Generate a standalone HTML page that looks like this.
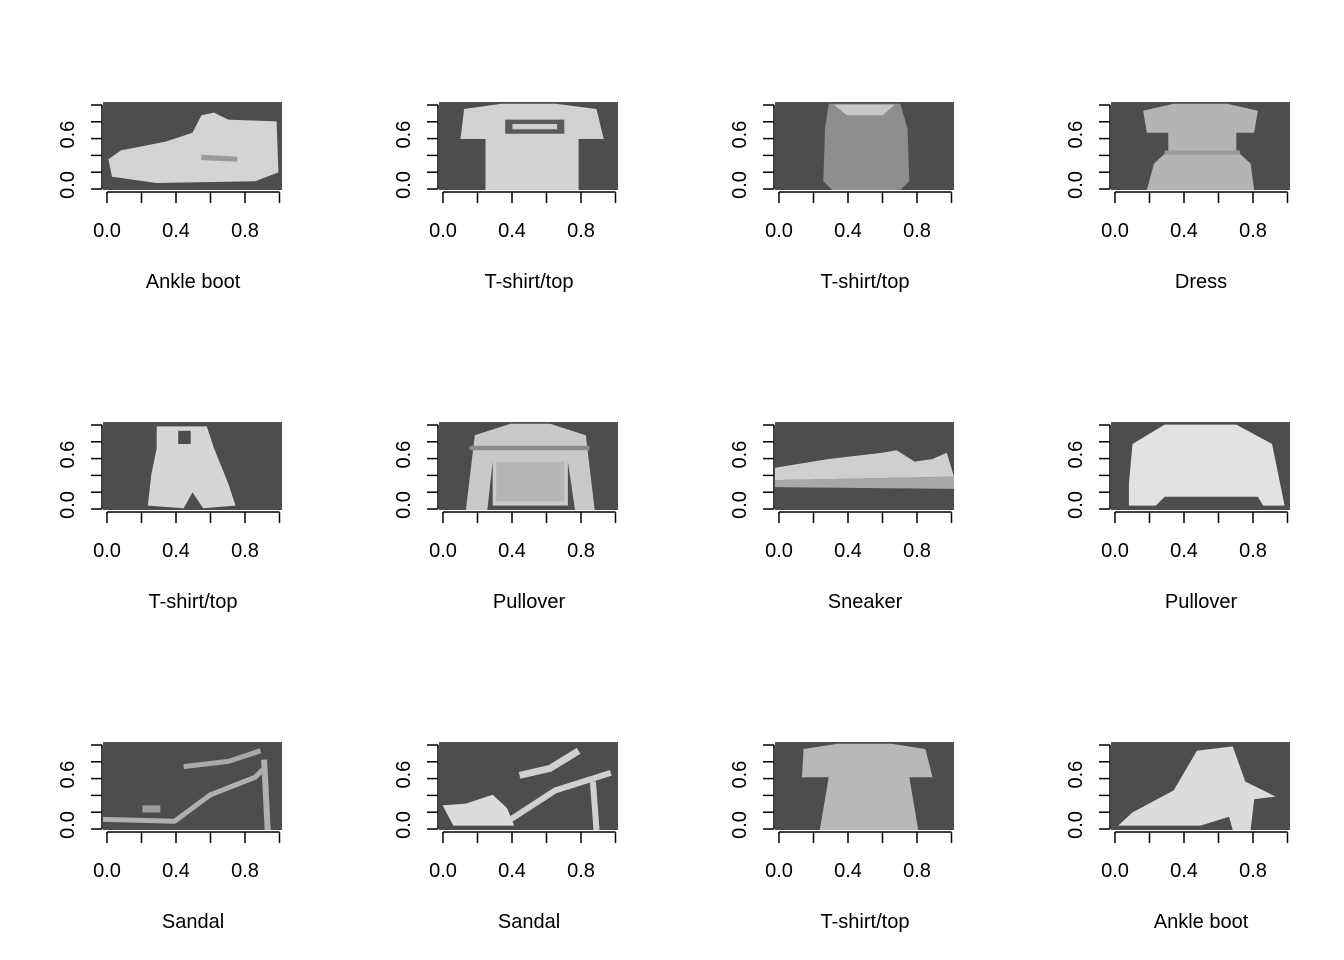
<!DOCTYPE html>
<html><head><meta charset="utf-8">
<style>
html,body{margin:0;padding:0;background:#fff;}
svg{display:block;font-family:"Liberation Sans",Arial,sans-serif;}
</style></head>
<body>
<svg id="chart" width="1344" height="960" viewBox="0 0 1344 960"></svg>
<script>
const titles = ["Ankle boot","T-shirt/top","T-shirt/top","Dress","T-shirt/top","Pullover","Sneaker","Pullover","Sandal","Sandal","T-shirt/top","Ankle boot"];
const xTicks = [0,0.2,0.4,0.6,0.8,1.0];
const xTickLabels = ["0.0","","0.4","","0.8",""];
const yTicks = [0,0.2,0.4,0.6,0.8,1.0];
const yTickLabels = ["0.0","","","0.6","",""];
// shapes in unit image coords (u across, v down)
const shapes = [
 [{f:"#d4d4d4",p:[[0.03,0.65],[0.1,0.55],[0.35,0.45],[0.5,0.35],[0.55,0.15],[0.62,0.12],[0.7,0.2],[0.97,0.22],[0.98,0.8],[0.85,0.9],[0.3,0.92],[0.05,0.85]]},{f:"#9a9a9a",p:[[0.55,0.6],[0.75,0.62],[0.75,0.68],[0.55,0.66]]}],
 [{f:"#d2d2d2",p:[[0.14,0.08],[0.35,0.02],[0.65,0.02],[0.88,0.08],[0.92,0.42],[0.78,0.42],[0.78,1],[0.26,1],[0.26,0.42],[0.12,0.42]]},{f:"#5a5a5a",p:[[0.37,0.2],[0.7,0.2],[0.7,0.36],[0.37,0.36]]},{f:"#cfcfcf",p:[[0.41,0.25],[0.66,0.25],[0.66,0.31],[0.41,0.31]]}],
 [{f:"#8e8e8e",p:[[0.3,0.02],[0.7,0.02],[0.74,0.3],[0.75,0.9],[0.7,1],[0.32,1],[0.27,0.9],[0.28,0.3]]},{f:"#c8c8c8",p:[[0.33,0.03],[0.67,0.03],[0.6,0.15],[0.4,0.15]]}],
 [{f:"#b4b4b4",p:[[0.18,0.1],[0.35,0.02],[0.65,0.02],[0.82,0.1],[0.8,0.35],[0.7,0.35],[0.7,0.55],[0.78,0.7],[0.8,1],[0.2,1],[0.24,0.7],[0.32,0.55],[0.32,0.35],[0.2,0.35]]},{f:"#9a9a9a",p:[[0.3,0.55],[0.72,0.55],[0.72,0.6],[0.3,0.6]]}],
 [{f:"#d6d6d6",p:[[0.3,0.05],[0.58,0.05],[0.62,0.3],[0.7,0.7],[0.74,0.95],[0.56,0.98],[0.5,0.8],[0.45,0.98],[0.25,0.95],[0.27,0.6],[0.3,0.3]]},{f:"#4d4d4d",p:[[0.42,0.1],[0.49,0.1],[0.49,0.25],[0.42,0.25]]}],
 [{f:"#c9c9c9",p:[[0.2,0.15],[0.4,0.02],[0.62,0.02],[0.82,0.15],[0.87,1],[0.76,1],[0.72,0.45],[0.72,0.95],[0.3,0.95],[0.3,0.45],[0.27,1],[0.15,1]]},{f:"#8a8a8a",p:[[0.17,0.27],[0.84,0.27],[0.84,0.32],[0.17,0.32]]},{f:"#b5b5b5",p:[[0.32,0.45],[0.7,0.45],[0.7,0.9],[0.32,0.9]]}],
 [{f:"#cfcfcf",p:[[0,0.52],[0.3,0.42],[0.6,0.35],[0.68,0.32],[0.78,0.45],[0.88,0.42],[0.96,0.35],[1,0.62],[0,0.66]]},{f:"#a8a8a8",p:[[0,0.66],[1,0.62],[1,0.76],[0,0.74]]}],
 [{f:"#e2e2e2",p:[[0.12,0.25],[0.3,0.03],[0.7,0.03],[0.9,0.25],[0.95,0.75],[0.97,0.95],[0.85,0.95],[0.82,0.85],[0.3,0.85],[0.25,0.95],[0.1,0.95],[0.1,0.7]]}],
 [{s:"#b0b0b0",w:5,p:[[0,0.88],[0.4,0.9],[0.6,0.6],[0.85,0.4],[0.9,0.3]]},{s:"#b0b0b0",w:6,p:[[0.9,0.2],[0.92,1]]},{s:"#a8a8a8",w:5,p:[[0.45,0.28],[0.7,0.22],[0.88,0.1]]},{f:"#a0a0a0",p:[[0.22,0.72],[0.32,0.72],[0.32,0.8],[0.22,0.8]]}],
 [{f:"#dcdcdc",p:[[0.02,0.72],[0.15,0.7],[0.3,0.6],[0.38,0.75],[0.42,0.95],[0.08,0.95]]},{s:"#d0d0d0",w:6,p:[[0.4,0.88],[0.65,0.55],[0.96,0.35]]},{s:"#d0d0d0",w:6,p:[[0.86,0.45],[0.88,1]]},{s:"#d0d0d0",w:7,p:[[0.45,0.38],[0.62,0.3],[0.78,0.1]]}],
 [{f:"#b8b8b8",p:[[0.16,0.08],[0.35,0.02],[0.65,0.02],[0.84,0.08],[0.88,0.4],[0.75,0.4],[0.8,1],[0.25,1],[0.3,0.4],[0.15,0.4]]}],
 [{f:"#dcdcdc",p:[[0.04,0.95],[0.12,0.8],[0.35,0.55],[0.48,0.1],[0.68,0.05],[0.75,0.45],[0.92,0.62],[0.8,0.65],[0.78,1],[0.68,1],[0.66,0.85],[0.5,0.95]]}]
];
const svg = document.getElementById('chart');
const NS = "http://www.w3.org/2000/svg";
function mk(tag, attrs, parent){const e=document.createElementNS(NS,tag);for(const k in attrs)e.setAttribute(k,attrs[k]);parent.appendChild(e);return e;}
for (let i=0;i<12;i++){
  const c=i%4, r=Math.floor(i/4);
  const ox=336*c, oy=320*r;
  const g=mk('g',{},svg);
  
  
  const ix=103+ox, iy=102+oy, iw=179, ih=88;
  const xS=v=>107+ox+v*172.5;
  const yS=v=>189+oy-v*84;
  const img=mk('g',{},g);
  
  
  mk('rect',{x:ix,y:iy,width:iw,height:ih,fill:'#4d4d4d'},img);
  const cp='cp'+i;
  const cl=mk('clipPath',{id:cp},img);mk('rect',{x:ix,y:iy,width:iw,height:ih},cl);
  const sg=mk('g',{'clip-path':'url(#'+cp+')'},img);
  shapes[i].forEach(sh=>{
    const pts=sh.p.map(q=>(ix+q[0]*iw).toFixed(1)+','+(iy+q[1]*ih).toFixed(1)).join(' ');
    if(sh.f) mk('polygon',{points:pts,fill:sh.f},sg);
    else mk('polyline',{points:pts,fill:'none',stroke:sh.s,'stroke-width':sh.w,'stroke-linejoin':'round'},sg);
  });
  // x axis
  const xa=mk('g',{stroke:'#000','stroke-width':1.5},g);
  
  
  mk('line',{x1:xS(0),x2:xS(1),y1:192+oy,y2:192+oy},xa);
  xTicks.forEach((t,k)=>{
    mk('line',{x1:xS(t),x2:xS(t),y1:192+oy,y2:203+oy},xa);
    if(xTickLabels[k]){const tx=mk('text',{x:xS(t),y:237+oy,'text-anchor':'middle','font-size':20,stroke:'none',fill:'#000'},g);tx.textContent=xTickLabels[k];}
  });
  const ya=mk('g',{stroke:'#000','stroke-width':1.5},g);
  
  
  mk('line',{x1:102+ox,x2:102+ox,y1:yS(0),y2:yS(1)},ya);
  yTicks.forEach((t,k)=>{
    mk('line',{x1:91+ox,x2:102+ox,y1:yS(t),y2:yS(t)},ya);
    if(yTickLabels[k]){const yy=yS(t)-4;const tx=mk('text',{x:74+ox,y:yy,'text-anchor':'middle','font-size':20,fill:'#000',transform:'rotate(-90 '+(74+ox)+' '+yy+')'},g);tx.textContent=yTickLabels[k];}
  });
  const tt=mk('text',{x:193+ox,y:288+oy,'text-anchor':'middle','font-size':20,fill:'#000'},g);
  
  
  tt.textContent=titles[i];
}
</script>
</body></html>
